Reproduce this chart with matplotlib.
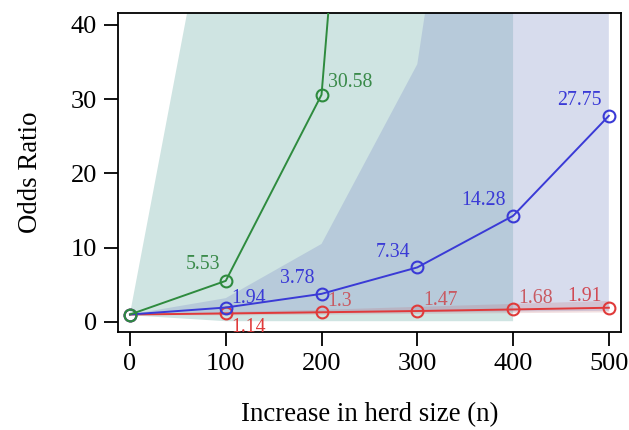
import numpy as np
import matplotlib
matplotlib.use('Agg')
import matplotlib.pyplot as plt

plt.rcParams['font.family'] = ['Liberation Serif', 'DejaVu Serif']

herd = [0, 100, 200, 300, 400, 500]

# odds ratios per series
green_or = [1, 5.53, 30.58, 187, 1100, 6000]
blue_or = [1, 1.94, 3.78, 7.34, 14.28, 27.75]
red_or = [1, 1.14, 1.3, 1.47, 1.68, 1.91]

# confidence bands (lower, upper)
green_lo = [0.9, 0.1, 0.1, 0.1, 0.1]
green_hi = [1.1, 69, 400, 2000, 9000]
blue_lo = [1.0, 1.1, 1.2, 1.3, 1.4, 1.5]
blue_hi = [1.0, 3.2, 10.5, 34.7, 120, 400]
red_lo = [1.0, 0.95, 1.05, 1.15, 1.25, 1.35]
red_hi = [1.0, 1.4, 1.7, 2.1, 2.5, 2.9]

green_labels = ['5.53', '30.58']
blue_labels = ['1.94', '3.78', '7.34', '14.28', '27.75']
red_labels = ['1.14', '1.3', '1.47', '1.68', '1.91']

fig = plt.figure(figsize=(6.29, 4.30), dpi=100)
ax = fig.add_axes([0.1876, 0.228, 0.7994, 0.742])

# bands
ax.fill_between(herd[:5], green_lo, green_hi, color='#cfe4e2', lw=0, zorder=1)
ax.fill_between(herd, blue_lo, blue_hi, color='#8595ca', alpha=0.32, lw=0, zorder=2)
ax.fill_between(herd, red_lo, red_hi, color='#c06068', alpha=0.2, lw=0, zorder=3)

green_c = '#2e8b3e'
blue_c = '#3a3ad6'
red_c = '#e03a3a'
mk = dict(marker='o', markersize=8.5, markerfacecolor='none', markeredgewidth=1.5, lw=1.4)
ax.plot(herd, red_or, color=red_c, zorder=4, **mk)
ax.plot(herd, blue_or, color=blue_c, zorder=5, **mk)
ax.plot(herd, green_or, color=green_c, zorder=6, **mk)

fs = 14.3
# green labels
ax.annotate(green_labels[0], (herd[1], green_or[1]), xytext=(-4, 5), textcoords='offset points',
            ha='right', va='bottom', color='#3a8a4a', fontsize=fs)
ax.annotate(green_labels[1], (herd[2], green_or[2]), xytext=(5, 2), textcoords='offset points',
            ha='left', va='bottom', color='#3a8a4a', fontsize=fs)
# blue labels
ax.annotate(blue_labels[0], (herd[1], blue_or[1]), xytext=(4, 0), textcoords='offset points',
            ha='left', va='bottom', color=blue_c, fontsize=fs)
for i in range(1, 5):
    ax.annotate(blue_labels[i], (herd[i + 1], blue_or[i + 1]), xytext=(-5, 4), textcoords='offset points',
                ha='right', va='bottom', color=blue_c, fontsize=fs)
# red labels
ax.annotate(red_labels[0], (herd[1], red_or[1]), xytext=(4, -3), textcoords='offset points',
            ha='left', va='top', color=red_c, fontsize=fs)
for i in range(1, 4):
    ax.annotate(red_labels[i], (herd[i + 1], red_or[i + 1]), xytext=(4, 1), textcoords='offset points',
                ha='left', va='bottom', color='#c85a62', fontsize=fs)
ax.annotate(red_labels[4], (herd[5], red_or[5]), xytext=(-5, 1), textcoords='offset points',
            ha='right', va='bottom', color='#d04a55', fontsize=fs)

ax.set_xlim(-12.5, 512.5)
ax.set_ylim(-1.35, 41.6)
ax.set_xticks(herd)
ax.set_yticks([0, 10, 20, 30, 40])
ax.tick_params(direction='out', length=10, width=1.3, labelsize=19, pad=5)
for s in ax.spines.values():
    s.set_linewidth(1.3)

ax.set_xlabel('Increase in herd size (n)', fontsize=19.3, labelpad=20)
ax.set_ylabel('Odds Ratio', fontsize=19.3, labelpad=20)

fig.savefig('out.png', dpi=100)
